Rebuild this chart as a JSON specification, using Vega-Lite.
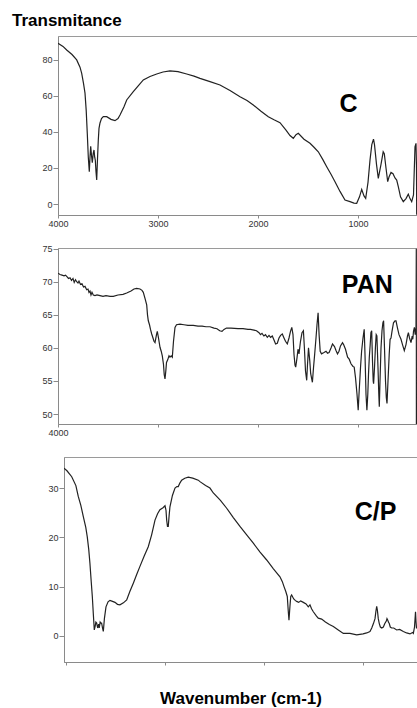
{
  "$schema": "https://vega.github.io/schema/vega-lite/v6.json",
  "padding": {"left": 12, "top": 11, "right": 0, "bottom": 0},
  "title": {"text": "Transmitance", "anchor": "start", "frame": "group", "dx": -46, "offset": 6, "fontSize": 17, "fontWeight": "bold", "font": "Liberation Sans", "color": "#000"},
  "config": {
    "font": "Liberation Sans",
    "view": {"stroke": "#9a9a9a", "strokeWidth": 1},
    "axis": {"domainColor": "#8a8a8a", "tickColor": "#8a8a8a", "labelFont": "Liberation Sans", "labelFontSize": 9, "labelColor": "#333", "grid": false, "title": null, "tickSize": 4, "labelPadding": 1, "labelOverlap": false, "labelBound": false, "labelFlush": false, "tickCount": 12}
  },
  "datasets": {
    "c": [
      {"wn": 4000, "t": 89.3}, {"wn": 3950, "t": 87.5}, {"wn": 3913, "t": 85.5}, {"wn": 3860, "t": 83}, {"wn": 3813, "t": 80}, {"wn": 3780, "t": 76}, {"wn": 3763, "t": 72.6}, {"wn": 3745, "t": 67}, {"wn": 3730, "t": 61.6}, {"wn": 3718, "t": 52}, {"wn": 3707, "t": 39}, {"wn": 3697, "t": 26}, {"wn": 3687, "t": 18}, {"wn": 3680, "t": 26}, {"wn": 3673, "t": 32}, {"wn": 3665, "t": 27}, {"wn": 3657, "t": 23}, {"wn": 3648, "t": 28}, {"wn": 3640, "t": 30}, {"wn": 3633, "t": 26}, {"wn": 3627, "t": 24.4}, {"wn": 3620, "t": 18}, {"wn": 3613, "t": 13.3}, {"wn": 3605, "t": 25}, {"wn": 3597, "t": 35.6}, {"wn": 3590, "t": 42}, {"wn": 3580, "t": 45}, {"wn": 3565, "t": 47.5}, {"wn": 3547, "t": 48.5}, {"wn": 3513, "t": 48.5}, {"wn": 3470, "t": 47}, {"wn": 3430, "t": 46.3}, {"wn": 3400, "t": 47.5}, {"wn": 3380, "t": 49.4}, {"wn": 3340, "t": 54}, {"wn": 3313, "t": 57.8}, {"wn": 3247, "t": 62.4}, {"wn": 3200, "t": 65.5}, {"wn": 3147, "t": 68.9}, {"wn": 3080, "t": 70.8}, {"wn": 3013, "t": 72.2}, {"wn": 2950, "t": 73.3}, {"wn": 2880, "t": 73.9}, {"wn": 2800, "t": 73.5}, {"wn": 2713, "t": 72.2}, {"wn": 2640, "t": 71}, {"wn": 2580, "t": 69.8}, {"wn": 2480, "t": 68}, {"wn": 2380, "t": 66.1}, {"wn": 2280, "t": 63}, {"wn": 2180, "t": 59.6}, {"wn": 2110, "t": 57.5}, {"wn": 2047, "t": 55}, {"wn": 1970, "t": 51.5}, {"wn": 1897, "t": 48.5}, {"wn": 1840, "t": 46.8}, {"wn": 1780, "t": 45.2}, {"wn": 1720, "t": 41}, {"wn": 1680, "t": 38}, {"wn": 1647, "t": 36.5}, {"wn": 1620, "t": 38.5}, {"wn": 1597, "t": 39.3}, {"wn": 1540, "t": 36}, {"wn": 1480, "t": 33.7}, {"wn": 1440, "t": 31.5}, {"wn": 1397, "t": 29}, {"wn": 1350, "t": 24.5}, {"wn": 1313, "t": 20.7}, {"wn": 1270, "t": 16.5}, {"wn": 1230, "t": 12.4}, {"wn": 1180, "t": 7}, {"wn": 1130, "t": 2.2}, {"wn": 1080, "t": 1.3}, {"wn": 1040, "t": 0.5}, {"wn": 1013, "t": 0.4}, {"wn": 985, "t": 4}, {"wn": 963, "t": 8.1}, {"wn": 940, "t": 4.5}, {"wn": 923, "t": 3.1}, {"wn": 900, "t": 12}, {"wn": 880, "t": 24.4}, {"wn": 862, "t": 33}, {"wn": 845, "t": 36}, {"wn": 835, "t": 33}, {"wn": 815, "t": 22}, {"wn": 797, "t": 14.2}, {"wn": 770, "t": 22}, {"wn": 748, "t": 29}, {"wn": 737, "t": 28}, {"wn": 720, "t": 20}, {"wn": 703, "t": 12.4}, {"wn": 690, "t": 15}, {"wn": 670, "t": 17.5}, {"wn": 650, "t": 16.8}, {"wn": 630, "t": 14.5}, {"wn": 613, "t": 13.3}, {"wn": 597, "t": 9.6}, {"wn": 575, "t": 4}, {"wn": 547, "t": 1.3}, {"wn": 520, "t": 3}, {"wn": 497, "t": 5.5}, {"wn": 480, "t": 3}, {"wn": 463, "t": 1.3}, {"wn": 445, "t": 5}, {"wn": 430, "t": 31.8}, {"wn": 420, "t": 33.7}, {"wn": 415, "t": 20}, {"wn": 413, "t": -6}
    ],
    "pan": [
      {"wn": 4000, "t": 71.3}, {"wn": 3980, "t": 71.1}, {"wn": 3960, "t": 71.0}, {"wn": 3940, "t": 70.9}, {"wn": 3925, "t": 71.0}, {"wn": 3913, "t": 70.8}, {"wn": 3895, "t": 70.5}, {"wn": 3880, "t": 70.6}, {"wn": 3865, "t": 70.2}, {"wn": 3850, "t": 70.5}, {"wn": 3838, "t": 69.9}, {"wn": 3825, "t": 70.3}, {"wn": 3813, "t": 70.0}, {"wn": 3800, "t": 69.8}, {"wn": 3790, "t": 70.1}, {"wn": 3775, "t": 69.6}, {"wn": 3760, "t": 69.7}, {"wn": 3745, "t": 69.2}, {"wn": 3730, "t": 69.3}, {"wn": 3713, "t": 68.8}, {"wn": 3700, "t": 68.9}, {"wn": 3690, "t": 68.4}, {"wn": 3680, "t": 68.6}, {"wn": 3670, "t": 68.0}, {"wn": 3660, "t": 68.4}, {"wn": 3647, "t": 68.0}, {"wn": 3630, "t": 67.9}, {"wn": 3610, "t": 68.0}, {"wn": 3580, "t": 67.9}, {"wn": 3550, "t": 67.8}, {"wn": 3520, "t": 67.9}, {"wn": 3480, "t": 67.8}, {"wn": 3447, "t": 67.8}, {"wn": 3400, "t": 68.0}, {"wn": 3350, "t": 68.1}, {"wn": 3313, "t": 68.3}, {"wn": 3270, "t": 68.6}, {"wn": 3240, "t": 68.9}, {"wn": 3213, "t": 69.0}, {"wn": 3180, "t": 68.9}, {"wn": 3160, "t": 68.7}, {"wn": 3147, "t": 68.4}, {"wn": 3130, "t": 67.5}, {"wn": 3113, "t": 66.5}, {"wn": 3105, "t": 65.0}, {"wn": 3097, "t": 64.1}, {"wn": 3085, "t": 63.5}, {"wn": 3075, "t": 62.8}, {"wn": 3063, "t": 62.1}, {"wn": 3050, "t": 61.5}, {"wn": 3040, "t": 61.0}, {"wn": 3030, "t": 60.8}, {"wn": 3015, "t": 62.0}, {"wn": 3007, "t": 62.5}, {"wn": 2995, "t": 61.5}, {"wn": 2980, "t": 60.1}, {"wn": 2968, "t": 59.5}, {"wn": 2957, "t": 58.8}, {"wn": 2945, "t": 57.5}, {"wn": 2938, "t": 56.0}, {"wn": 2930, "t": 55.3}, {"wn": 2922, "t": 56.5}, {"wn": 2915, "t": 57.8}, {"wn": 2903, "t": 58.2}, {"wn": 2890, "t": 58.8}, {"wn": 2880, "t": 58.6}, {"wn": 2868, "t": 58.8}, {"wn": 2857, "t": 58.6}, {"wn": 2845, "t": 61}, {"wn": 2830, "t": 63.1}, {"wn": 2815, "t": 63.5}, {"wn": 2780, "t": 63.6}, {"wn": 2740, "t": 63.5}, {"wn": 2700, "t": 63.4}, {"wn": 2647, "t": 63.4}, {"wn": 2600, "t": 63.3}, {"wn": 2560, "t": 63.3}, {"wn": 2520, "t": 63.2}, {"wn": 2480, "t": 63.2}, {"wn": 2440, "t": 63.0}, {"wn": 2410, "t": 62.9}, {"wn": 2383, "t": 62.6}, {"wn": 2360, "t": 62.5}, {"wn": 2340, "t": 62.8}, {"wn": 2315, "t": 63.0}, {"wn": 2270, "t": 63.0}, {"wn": 2200, "t": 62.9}, {"wn": 2150, "t": 62.9}, {"wn": 2100, "t": 62.8}, {"wn": 2075, "t": 62.8}, {"wn": 2040, "t": 62.7}, {"wn": 2015, "t": 62.6}, {"wn": 1990, "t": 62.3}, {"wn": 1975, "t": 62.0}, {"wn": 1960, "t": 62.2}, {"wn": 1941, "t": 61.8}, {"wn": 1925, "t": 62.0}, {"wn": 1907, "t": 61.6}, {"wn": 1890, "t": 61.9}, {"wn": 1874, "t": 61.6}, {"wn": 1857, "t": 61.8}, {"wn": 1840, "t": 61.2}, {"wn": 1824, "t": 60.6}, {"wn": 1807, "t": 60.7}, {"wn": 1790, "t": 61.5}, {"wn": 1774, "t": 61.9}, {"wn": 1757, "t": 62.1}, {"wn": 1740, "t": 61.5}, {"wn": 1725, "t": 61.0}, {"wn": 1707, "t": 60.6}, {"wn": 1690, "t": 61.5}, {"wn": 1675, "t": 62.5}, {"wn": 1662, "t": 63.1}, {"wn": 1650, "t": 62}, {"wn": 1640, "t": 59}, {"wn": 1630, "t": 57.4}, {"wn": 1623, "t": 57.1}, {"wn": 1610, "t": 58.5}, {"wn": 1600, "t": 59.8}, {"wn": 1590, "t": 59.1}, {"wn": 1575, "t": 61}, {"wn": 1560, "t": 62.3}, {"wn": 1546, "t": 62.6}, {"wn": 1536, "t": 60}, {"wn": 1525, "t": 56.5}, {"wn": 1513, "t": 55.1}, {"wn": 1505, "t": 57.5}, {"wn": 1495, "t": 60.0}, {"wn": 1482, "t": 58}, {"wn": 1473, "t": 56.1}, {"wn": 1456, "t": 54.8}, {"wn": 1445, "t": 57}, {"wn": 1433, "t": 59.1}, {"wn": 1420, "t": 61.5}, {"wn": 1410, "t": 63.5}, {"wn": 1399, "t": 65.3}, {"wn": 1389, "t": 62}, {"wn": 1378, "t": 59.5}, {"wn": 1365, "t": 59.1}, {"wn": 1340, "t": 59.3}, {"wn": 1320, "t": 59.5}, {"wn": 1305, "t": 59.2}, {"wn": 1289, "t": 59.3}, {"wn": 1270, "t": 60}, {"wn": 1255, "t": 60.6}, {"wn": 1235, "t": 60.2}, {"wn": 1220, "t": 59.6}, {"wn": 1205, "t": 59.1}, {"wn": 1190, "t": 59.5}, {"wn": 1175, "t": 60.3}, {"wn": 1155, "t": 60.8}, {"wn": 1144, "t": 60.5}, {"wn": 1125, "t": 59.8}, {"wn": 1104, "t": 58.6}, {"wn": 1088, "t": 58.3}, {"wn": 1070, "t": 57.6}, {"wn": 1050, "t": 57.2}, {"wn": 1038, "t": 57.1}, {"wn": 1025, "t": 55.5}, {"wn": 1010, "t": 53}, {"wn": 998, "t": 50.6}, {"wn": 990, "t": 53}, {"wn": 975, "t": 57}, {"wn": 964, "t": 59.5}, {"wn": 950, "t": 61.5}, {"wn": 938, "t": 62.8}, {"wn": 930, "t": 59}, {"wn": 920, "t": 53}, {"wn": 911, "t": 50.6}, {"wn": 902, "t": 53}, {"wn": 895, "t": 56}, {"wn": 887, "t": 58.6}, {"wn": 878, "t": 60.5}, {"wn": 871, "t": 62.3}, {"wn": 863, "t": 62.6}, {"wn": 855, "t": 58}, {"wn": 848, "t": 55}, {"wn": 844, "t": 54.6}, {"wn": 835, "t": 57}, {"wn": 826, "t": 60}, {"wn": 818, "t": 62}, {"wn": 811, "t": 61.8}, {"wn": 800, "t": 57}, {"wn": 792, "t": 53}, {"wn": 787, "t": 51.1}, {"wn": 780, "t": 55}, {"wn": 770, "t": 60}, {"wn": 760, "t": 62.6}, {"wn": 751, "t": 63.8}, {"wn": 744, "t": 64.1}, {"wn": 735, "t": 60}, {"wn": 725, "t": 55}, {"wn": 717, "t": 52.5}, {"wn": 710, "t": 51.6}, {"wn": 700, "t": 55}, {"wn": 688, "t": 59}, {"wn": 679, "t": 61.3}, {"wn": 670, "t": 61.5}, {"wn": 660, "t": 62.5}, {"wn": 645, "t": 63.8}, {"wn": 630, "t": 64.1}, {"wn": 620, "t": 64.1}, {"wn": 605, "t": 63}, {"wn": 590, "t": 62}, {"wn": 570, "t": 61.3}, {"wn": 555, "t": 60.5}, {"wn": 537, "t": 59.6}, {"wn": 520, "t": 60.5}, {"wn": 505, "t": 61.8}, {"wn": 496, "t": 62.3}, {"wn": 485, "t": 61.5}, {"wn": 470, "t": 60.8}, {"wn": 458, "t": 61.8}, {"wn": 452, "t": 61.3}, {"wn": 445, "t": 62.5}, {"wn": 436, "t": 63.1}, {"wn": 428, "t": 62}, {"wn": 420, "t": 63.1}, {"wn": 417, "t": 75}, {"wn": 416, "t": 48.5}
    ],
    "cp": [
      {"wn": 4020, "t": 34}, {"wn": 3990, "t": 33.5}, {"wn": 3942, "t": 32.3}, {"wn": 3900, "t": 30.5}, {"wn": 3876, "t": 28.3}, {"wn": 3850, "t": 26.5}, {"wn": 3825, "t": 24.2}, {"wn": 3800, "t": 22}, {"wn": 3785, "t": 20.1}, {"wn": 3770, "t": 17.5}, {"wn": 3758, "t": 14.7}, {"wn": 3745, "t": 11}, {"wn": 3734, "t": 8}, {"wn": 3724, "t": 4.5}, {"wn": 3714, "t": 1.2}, {"wn": 3705, "t": 2}, {"wn": 3698, "t": 2.8}, {"wn": 3690, "t": 2.6}, {"wn": 3680, "t": 1.6}, {"wn": 3670, "t": 2.4}, {"wn": 3664, "t": 1.6}, {"wn": 3655, "t": 2.8}, {"wn": 3648, "t": 2.6}, {"wn": 3640, "t": 2.6}, {"wn": 3630, "t": 1.5}, {"wn": 3623, "t": 0.9}, {"wn": 3612, "t": 3.5}, {"wn": 3596, "t": 5.9}, {"wn": 3575, "t": 6.9}, {"wn": 3556, "t": 7.2}, {"wn": 3530, "t": 7}, {"wn": 3505, "t": 6.8}, {"wn": 3480, "t": 6.4}, {"wn": 3455, "t": 6.3}, {"wn": 3420, "t": 6.7}, {"wn": 3387, "t": 7.3}, {"wn": 3355, "t": 9}, {"wn": 3320, "t": 10.7}, {"wn": 3285, "t": 12.5}, {"wn": 3253, "t": 14.1}, {"wn": 3210, "t": 16.2}, {"wn": 3169, "t": 18.1}, {"wn": 3135, "t": 20.5}, {"wn": 3101, "t": 23.5}, {"wn": 3075, "t": 24.8}, {"wn": 3051, "t": 25.6}, {"wn": 3020, "t": 26}, {"wn": 3000, "t": 26.4}, {"wn": 2990, "t": 25.5}, {"wn": 2983, "t": 23.5}, {"wn": 2975, "t": 22.2}, {"wn": 2967, "t": 22.2}, {"wn": 2958, "t": 24.5}, {"wn": 2950, "t": 26.2}, {"wn": 2925, "t": 28.5}, {"wn": 2899, "t": 30}, {"wn": 2880, "t": 30.3}, {"wn": 2866, "t": 30.3}, {"wn": 2850, "t": 31}, {"wn": 2832, "t": 31.6}, {"wn": 2800, "t": 32}, {"wn": 2765, "t": 32.2}, {"wn": 2720, "t": 32}, {"wn": 2664, "t": 31.6}, {"wn": 2647, "t": 31.3}, {"wn": 2590, "t": 30.5}, {"wn": 2546, "t": 30}, {"wn": 2512, "t": 29}, {"wn": 2440, "t": 27.5}, {"wn": 2377, "t": 25.9}, {"wn": 2310, "t": 24}, {"wn": 2243, "t": 22.2}, {"wn": 2175, "t": 20.5}, {"wn": 2108, "t": 18.8}, {"wn": 2040, "t": 17}, {"wn": 1973, "t": 15.4}, {"wn": 1905, "t": 13.6}, {"wn": 1839, "t": 12}, {"wn": 1815, "t": 11}, {"wn": 1798, "t": 10}, {"wn": 1780, "t": 9}, {"wn": 1765, "t": 8}, {"wn": 1755, "t": 5}, {"wn": 1748, "t": 3.2}, {"wn": 1738, "t": 6}, {"wn": 1730, "t": 8}, {"wn": 1721, "t": 8.3}, {"wn": 1700, "t": 7.5}, {"wn": 1685, "t": 7.2}, {"wn": 1670, "t": 7}, {"wn": 1650, "t": 6.8}, {"wn": 1630, "t": 7.1}, {"wn": 1603, "t": 6.8}, {"wn": 1575, "t": 6.5}, {"wn": 1553, "t": 5.9}, {"wn": 1536, "t": 6.3}, {"wn": 1520, "t": 5.5}, {"wn": 1502, "t": 4.9}, {"wn": 1470, "t": 4}, {"wn": 1452, "t": 3.6}, {"wn": 1435, "t": 3.5}, {"wn": 1418, "t": 3.4}, {"wn": 1380, "t": 2.8}, {"wn": 1340, "t": 2.3}, {"wn": 1300, "t": 1.9}, {"wn": 1250, "t": 1.2}, {"wn": 1199, "t": 0.5}, {"wn": 1132, "t": 0.5}, {"wn": 1064, "t": 0.2}, {"wn": 1000, "t": 0.4}, {"wn": 963, "t": 0.6}, {"wn": 930, "t": 0.9}, {"wn": 912, "t": 1.6}, {"wn": 895, "t": 2.5}, {"wn": 879, "t": 3.5}, {"wn": 870, "t": 5}, {"wn": 862, "t": 6}, {"wn": 855, "t": 5.2}, {"wn": 846, "t": 3.5}, {"wn": 836, "t": 2.5}, {"wn": 825, "t": 1.8}, {"wn": 811, "t": 1.6}, {"wn": 795, "t": 1.8}, {"wn": 780, "t": 2.5}, {"wn": 765, "t": 3}, {"wn": 758, "t": 3.5}, {"wn": 750, "t": 3.2}, {"wn": 744, "t": 2.8}, {"wn": 735, "t": 2.5}, {"wn": 725, "t": 1.8}, {"wn": 711, "t": 1.6}, {"wn": 690, "t": 1.6}, {"wn": 660, "t": 1.2}, {"wn": 630, "t": 1.3}, {"wn": 593, "t": 0.9}, {"wn": 560, "t": 0.6}, {"wn": 526, "t": 0.4}, {"wn": 500, "t": 0.7}, {"wn": 492, "t": 0.5}, {"wn": 480, "t": 1.8}, {"wn": 470, "t": 4.9}, {"wn": 465, "t": 2.9}, {"wn": 460, "t": 1.5}
    ]
  },
  "bounds": "flush",
  "spacing": 33,
  "vconcat": [
    {
      "width": 359, "height": 179,
      "layer": [
        {
          "data": {"name": "c"},
          "mark": {"type": "line", "color": "#222", "strokeWidth": 1.2, "clip": true},
          "encoding": {
            "x": {"field": "wn", "type": "quantitative", "scale": {"domain": [410, 4000], "reverse": true, "nice": false, "zero": false}, "axis": {"values": [4000, 3000, 2000, 1000], "format": "d", "tickSize": 3}},
            "y": {"field": "t", "type": "quantitative", "scale": {"domain": [-6.1, 93.3], "nice": false, "zero": false}, "axis": {"values": [0, 20, 40, 60, 80], "tickSize": 5}}
          }
        },
        {
          "data": {"values": [{"wn": 1095, "t": 55.6, "label": "C"}]},
          "mark": {"type": "text", "fontSize": 25, "fontWeight": "bold", "font": "Liberation Sans", "color": "#000", "baseline": "middle", "align": "center"},
          "encoding": {
            "x": {"field": "wn", "type": "quantitative"},
            "y": {"field": "t", "type": "quantitative"},
            "text": {"field": "label"}
          }
        }
      ]
    },
    {
      "width": 359, "height": 176,
      "layer": [
        {
          "data": {"name": "pan"},
          "mark": {"type": "line", "color": "#222", "strokeWidth": 1.2, "clip": true},
          "encoding": {
            "x": {"field": "wn", "type": "quantitative", "scale": {"domain": [410, 4000], "reverse": true, "nice": false, "zero": false}, "axis": {"values": [4000, 3000, 2000, 1000], "labelExpr": "datum.value == 4000 ? '4000' : ''", "tickSize": 3}},
            "y": {"field": "t", "type": "quantitative", "scale": {"domain": [48.5, 75.1], "nice": false, "zero": false}, "axis": {"values": [50, 55, 60, 65, 70, 75], "tickCount": 12, "tickSize": 5}}
          }
        },
        {
          "data": {"values": [{"wn": 907, "t": 69.5, "label": "PAN"}]},
          "mark": {"type": "text", "fontSize": 25, "fontWeight": "bold", "font": "Liberation Sans", "color": "#000", "baseline": "middle", "align": "center"},
          "encoding": {
            "x": {"field": "wn", "type": "quantitative"},
            "y": {"field": "t", "type": "quantitative"},
            "text": {"field": "label"}
          }
        }
      ]
    },
    {
      "hconcat": [
        {
          "width": 1, "height": 205,
          "data": {"values": [{"wn": 0}]},
          "mark": {"type": "point", "opacity": 0},
          "encoding": {},
          "view": {"stroke": null}
        },
        {
          "width": 353, "height": 205,
          "layer": [
            {
              "data": {"name": "cp"},
              "mark": {"type": "line", "color": "#222", "strokeWidth": 1.2, "clip": true},
              "encoding": {
                "x": {"field": "wn", "type": "quantitative", "scale": {"domain": [455, 4020], "reverse": true, "nice": false, "zero": false}, "axis": {"values": [4000, 3000, 2000, 1000], "labels": false, "tickSize": 3, "title": "Wavenumber (cm-1)", "titleFont": "Liberation Sans", "titleFontSize": 17, "titleFontWeight": "bold", "titleColor": "#000", "titlePadding": 25}},
                "y": {"field": "t", "type": "quantitative", "scale": {"domain": [-5.3, 36.3], "nice": false, "zero": false}, "axis": {"values": [0, 10, 20, 30], "tickSize": 5}}
              }
            },
            {
              "data": {"values": [{"wn": 874, "t": 25.1, "label": "C/P"}]},
              "mark": {"type": "text", "fontSize": 25, "fontWeight": "bold", "font": "Liberation Sans", "color": "#000", "baseline": "middle", "align": "center"},
              "encoding": {
                "x": {"field": "wn", "type": "quantitative"},
                "y": {"field": "t", "type": "quantitative"},
                "text": {"field": "label"}
              }
            }
          ]
        }
      ],
      "spacing": 5,
      "bounds": "flush"
    }
  ]
}
